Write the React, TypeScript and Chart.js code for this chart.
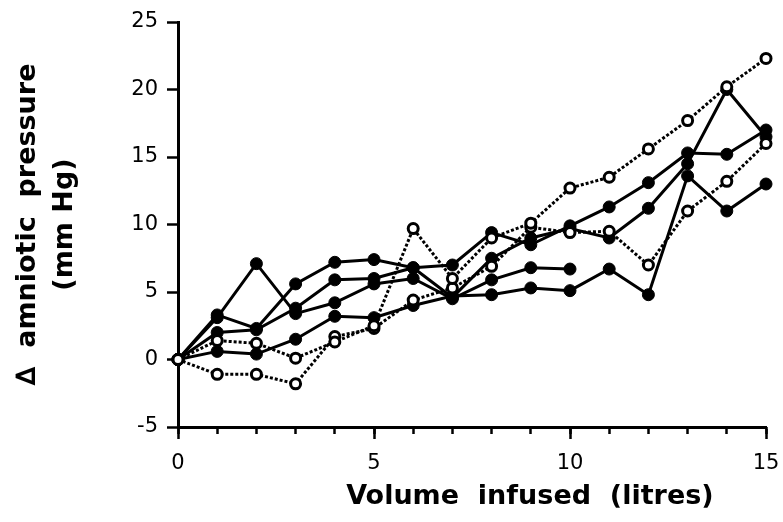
import React, { useEffect, useRef } from "react";
import { Chart, registerables } from "chart.js";

Chart.register(...registerables);

const volume = [0, 1, 2, 3, 4, 5, 6, 7, 8, 9, 10, 11, 12, 13, 14, 15];

// open circles, dotted lines
const openA = [0, 1.4, 1.2, 0.1, 1.3, 2.5, 9.7, 6.0, 9.0, 10.1, 12.7, 13.5, 15.6, 17.7, 20.2, 22.3];
const openB = [0, -1.1, -1.1, -1.8, 1.7, 2.3, 4.4, 5.3, 6.9, 9.8, 9.4, 9.5, 7.0, 11.0, 13.2, 16.0];

// filled circles, solid lines
const filled1 = [0, 3.1, 7.1, 3.4, 4.2, 5.6, 6.0, 4.5, 5.9, 6.8, 6.7];
const filled2 = [0, 3.3, 2.3, 5.6, 7.2, 7.4, 6.8, 7.0, 9.4, 8.5, 9.9, 11.3, 13.1, 15.3, 15.2, 17.0];
const filled3 = [0, 2.0, 2.2, 3.8, 5.9, 6.0, 6.8, 4.6, 7.5, 9.0, 9.7, 9.0, 11.2, 14.5, 20.0, 16.5];
const filled4 = [0, 0.6, 0.4, 1.5, 3.2, 3.1, 4.0, 4.7, 4.8, 5.3, 5.1, 6.7, 4.8, 13.6, 11.0, 13.0];

const xTitle = "Volume  infused  (litres)     \u2009";
const yTitle = ["\u2206  amniotic  pressure", "(mm Hg)"];

const toPoints = (vals: number[]) => vals.map((y, i) => ({ x: volume[i], y }));

export default function App() {
  const ref = useRef<HTMLCanvasElement | null>(null);

  useEffect(() => {
    if (!ref.current) return;
    const openDs = (vals: number[]) => ({
      data: toPoints(vals),
      borderColor: "#000",
      borderWidth: 3,
      borderDash: [3, 2],
      pointRadius: 5,
      pointBorderWidth: 3,
      pointBackgroundColor: "#fff",
      pointBorderColor: "#000",
      tension: 0,
      fill: false,
      clip: false,
    });
    const filledDs = (vals: number[]) => ({
      data: toPoints(vals),
      borderColor: "#000",
      borderWidth: 3,
      pointRadius: 6,
      pointBorderWidth: 1,
      pointBackgroundColor: "#000",
      pointBorderColor: "#000",
      tension: 0,
      fill: false,
      clip: false,
    });
    const chart = new Chart(ref.current, {
      type: "line",
      data: {
        datasets: [
          openDs(openA),
          openDs(openB),
          filledDs(filled1),
          filledDs(filled2),
          filledDs(filled3),
          filledDs(filled4),
        ],
      },
      options: {
        animation: false,
        responsive: false,
        layout: { padding: { top: 22, right: 17, left: 0, bottom: 0 } },
        plugins: { legend: { display: false }, tooltip: { enabled: false } },
        scales: {
          x: {
            type: "linear",
            position: "bottom",
            min: 0,
            max: 15,
            ticks: {
              stepSize: 5,
              color: "#000",
              font: { family: "DejaVu Sans", size: 21 },
              padding: 12,
              maxRotation: 0,
              autoSkip: false,
            },
            grid: {
              drawOnChartArea: false,
              drawTicks: true,
              tickLength: 12,
              tickWidth: 2.5,
              tickColor: "#000",
            },
            border: { display: true, color: "#000", width: 3 },
            title: {
              display: true,
              text: xTitle,
              align: "end",
              color: "#000",
              font: { family: "DejaVu Sans", size: 27, weight: "bold" },
              padding: { top: 0, bottom: 9 },
            },
            afterFit: (s: any) => {
              s.height = 95;
              s.paddingLeft = 0;
              s.paddingRight = 0;
            },
          },
          xMinor: {
            type: "linear",
            axis: "x",
            position: { y: -5 },
            min: 0,
            max: 15,
            ticks: { stepSize: 1, display: false },
            grid: {
              drawOnChartArea: false,
              drawTicks: true,
              tickLength: 7,
              tickWidth: 2.5,
              tickColor: "#000",
            },
            border: { display: false },
            afterFit: (s: any) => {
              s.height = 0;
              s.paddingLeft = 0;
              s.paddingRight = 0;
            },
          },
          y: {
            type: "linear",
            position: "left",
            min: -5,
            max: 25,
            ticks: {
              stepSize: 5,
              color: "#000",
              font: { family: "DejaVu Sans", size: 21 },
              padding: 9,
            },
            grid: {
              drawOnChartArea: false,
              drawTicks: true,
              tickLength: 11,
              tickWidth: 2.5,
              tickColor: "#000",
            },
            border: { display: true, color: "#000", width: 3 },
            title: {
              display: true,
              text: yTitle,
              color: "#000",
              font: { family: "DejaVu Sans", size: 27, weight: "bold", lineHeight: 1.36 },
              padding: { top: 10, bottom: 0 },
            },
            afterFit: (s: any) => {
              s.width = 178;
              s.paddingTop = 0;
              s.paddingBottom = 0;
            },
          },
        },
      } as any,
    });
    return () => chart.destroy();
  }, []);

  return (
    <div style={{ position: "fixed", left: 0, top: 0, width: 783, height: 522, background: "#fff" }}>
      <canvas ref={ref} width={783} height={522} />
    </div>
  );
}
